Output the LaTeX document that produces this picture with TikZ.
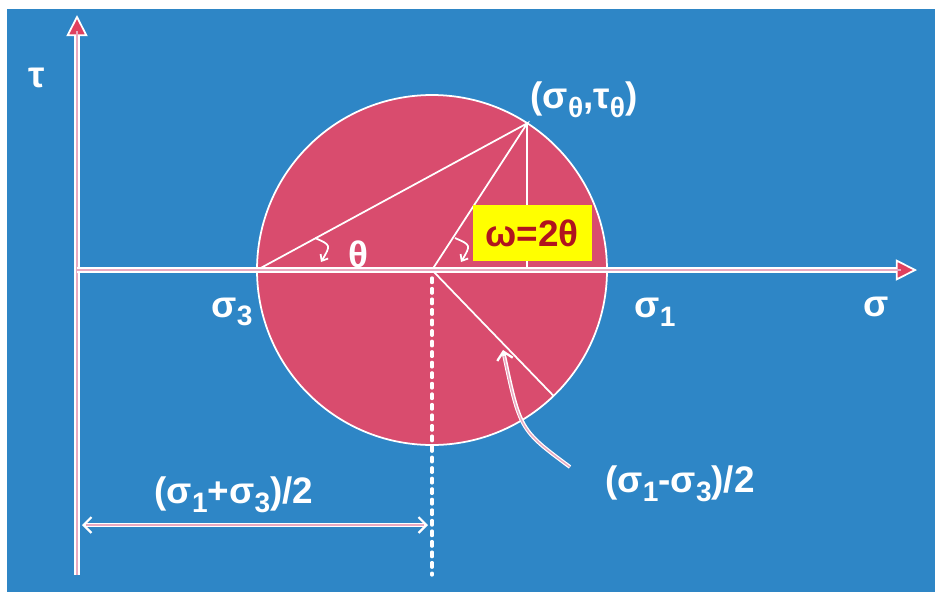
\documentclass[tikz,border=0pt]{standalone}
\usepackage{fontspec}
\setmainfont{Liberation Sans}
\usepackage{xcolor}
\definecolor{mcbg}{HTML}{2E86C6}
\definecolor{mcdisk}{HTML}{D94C6E}
\definecolor{mcpink}{HTML}{E9A9C0}
\definecolor{mctip}{HTML}{E0405E}
\definecolor{mcyellow}{HTML}{FFFF00}
\definecolor{mcwine}{HTML}{B0141E}
\usetikzlibrary{arrows.meta,positioning,calc}
\tikzset{
  mcaxis/.style ={draw=white, line width=3pt},
  mccore/.style ={draw=mcpink, line width=1.3pt},
  mcthin/.style ={draw=white, line width=1pt},
  mcdash/.style ={draw=white, line width=1.9pt, line cap=round, dash pattern=on 2.6pt off 3.4pt},
  mcdim/.style  ={draw=white, line width=2.2pt},
  mcdimc/.style ={draw=mcpink, line width=0.8pt},
  mchook/.style ={draw=white, line width=1pt, -{Straight Barb[length=3pt,width=5pt]}},
  mctipax/.style={-{Triangle[length=12pt,width=12pt,fill=mctip,line width=1pt]}},
  mcbarb/.tip   ={Straight Barb[length=4.5pt,width=9pt,line width=1.3pt]},
  mclbl/.style  ={font=\fontsize{21}{23}\selectfont\bfseries, text=white, inner sep=0pt},
  mcbox/.style  ={rectangle, fill=mcyellow, draw=none, minimum width=2.38cm, minimum height=1.12cm,
                  font=\fontsize{21}{23}\selectfont\bfseries, text=mcwine},
}
\newcommand{\lo}[1]{\raisebox{-0.45ex}{\fontsize{16}{16}\selectfont #1}}

\begin{document}
\begin{tikzpicture}[x=0.02cm, y=-0.02cm]
  \def\R{175}
  \useasboundingbox (0,0) rectangle (935,592);
  \fill[white] (0,0) rectangle (935,592);
  \fill[mcbg] (7,9) rectangle (935,592);
  % points of the circle
  \coordinate (O) at (77,270);
  \coordinate (C) at (432,270);
  \coordinate (S3) at ([shift={(C)}]180:\R);
  \coordinate (S1) at ([shift={(C)}]0:\R);
  \coordinate (P) at ([shift={(C)}]-57:\R);
  \coordinate (Q) at ([shift={(C)}]46:\R);
  \coordinate (Pf) at (P |- C);
  \coordinate (Ctop) at (77,15);
  \coordinate (Cbot) at (77,575);
  \coordinate (Xend) at (917,270);
  \coordinate (Cdn) at (432,575);
  \draw[mcthin, fill=mcdisk] (C) circle (\R);
  \draw[mcthin] (S3) -- (P) -- (C) -- (Q);
  \draw[mcthin] (P) -- (Pf);
  % axes
  \draw[mcaxis, mctipax] (Cbot) -- (Ctop);
  \draw[mccore] (Cbot) -- ($(Ctop)+(0,16)$);
  \draw[mcaxis, mctipax] (O) -- (Xend);
  \draw[mccore] (O) -- ($(Xend)+(-16,0)$);
  \draw[mcdash] ($(C)+(0,8)$) -- (Cdn);
  % angle hooks
  \coordinate (h1a) at (315,238); \coordinate (h1b) at (321,262);
  \coordinate (h2a) at (455,238); \coordinate (h2b) at (461,262);
  \draw[mchook] (h1a) .. controls (331,245) .. (h1b);
  \draw[mchook] (h2a) .. controls (471,245) .. (h2b);
  \node[mcbox] (omega) at (532,233) {ω=2θ};
  % labels
  \node[mclbl] (tau) at (37,78) {τ};
  \node[mclbl] (sig) at (876,307) {σ};
  \node[mclbl] (sig3) at (232,312) {σ\lo{3}};
  \node[mclbl] (sig1) at (655,312) {σ\lo{1}};
  \node[mclbl] (pt) at (584,100) {(σ\lo{θ},τ\lo{θ})};
  \node[mclbl] (th) at (358,254) {θ};
  \node[mclbl] (mean) at (234,495) {(σ\lo{1}+σ\lo{3})/2};
  \node[mclbl] (rad) at (680,484) {(σ\lo{1}-σ\lo{3})/2};
  % dimension and pointer arrows
  \coordinate (dimL) at (82,525);
  \coordinate (dimR) at (428,525);
  \draw[mcdim, mcbarb-mcbarb] (dimL) -- (dimR);
  \draw[mcdimc] ($(dimL)+(4,0)$) -- ($(dimR)+(-4,0)$);
  \coordinate (cvS) at (570,467);
  \coordinate (cvE) at (503,350);
  \draw[mcdim, -mcbarb] (cvS) .. controls (520,430) .. (cvE);
  \draw[mcdimc] (cvS) .. controls (520,430) .. ($(cvE)+(1,6)$);
\end{tikzpicture}
\end{document}
